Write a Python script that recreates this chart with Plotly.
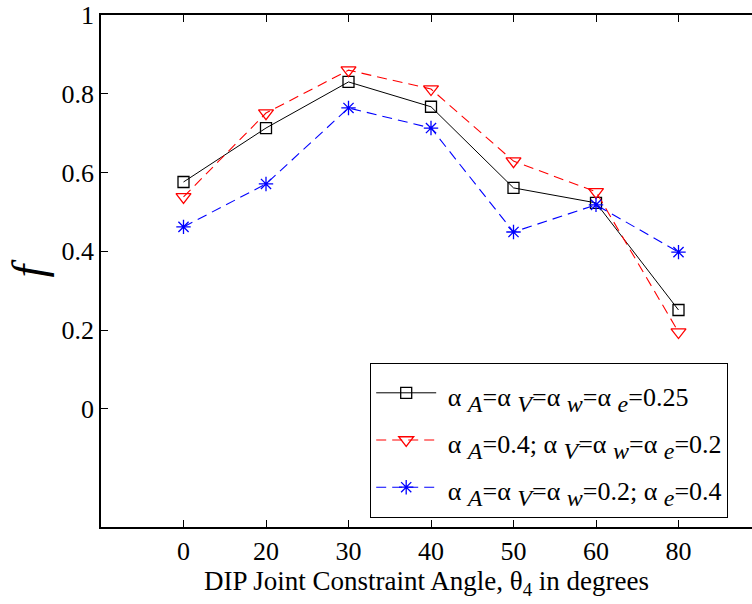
import plotly.graph_objects as go

categories = ["0", "20", "30", "40", "50", "60", "80"]
series_equal = [0.576, 0.713, 0.830, 0.767, 0.561, 0.523, 0.251]
series_A04 = [0.538, 0.751, 0.860, 0.812, 0.629, 0.551, 0.195]
series_e04 = [0.462, 0.571, 0.764, 0.713, 0.449, 0.518, 0.398]
y_ticks = [0, 0.2, 0.4, 0.6, 0.8, 1]


def sb(s):
    return "<sub><span style='font-size:24px'><i>" + s + "</i></span></sub>"


def lg(t):
    return "<span style='font-size:26px'> " + t + "</span>"


names = [
    lg("α " + sb("A") + "=α " + sb("V") + "=α " + sb("w") + "=α " + sb("e") + "=0.25"),
    lg("α " + sb("A") + "=0.4; α " + sb("V") + "=α " + sb("w") + "=α " + sb("e") + "=0.2"),
    lg("α " + sb("A") + "=α " + sb("V") + "=α " + sb("w") + "=0.2; α " + sb("e") + "=0.4"),
]

xpos = list(range(1, len(categories) + 1))
FONT = "Liberation Serif"

fig = go.Figure()
fig.add_trace(go.Scatter(x=xpos, y=series_equal, mode="lines+markers", name=names[0],
                         line=dict(color="black", width=1),
                         marker=dict(symbol="square-open", size=11, color="black", line=dict(width=1.3))))
fig.add_trace(go.Scatter(x=xpos, y=series_A04, mode="lines+markers", name=names[1],
                         line=dict(color="#ff0000", width=1.1, dash="10px,6px"),
                         marker=dict(symbol="triangle-down-open", size=13, color="#ff0000", line=dict(width=1.3))))
fig.add_trace(go.Scatter(x=xpos, y=series_e04, mode="lines+markers", name=names[2],
                         line=dict(color="#0000ff", width=1.1, dash="10px,6px"),
                         marker=dict(symbol="asterisk-open", size=12, color="#0000ff", line=dict(width=1.3))))

fig.update_layout(
    width=752, height=604,
    margin=dict(l=101, r=0, t=15, b=77),
    paper_bgcolor="white", plot_bgcolor="white",
    font=dict(family=FONT, size=26, color="black"),
    showlegend=True,
    legend=dict(
        x=(370 - 101) / 651, y=(527 - 363) / 512, xanchor="left", yanchor="top",
        bordercolor="black", borderwidth=1.2, bgcolor="white",
        font=dict(family=FONT, size=34, color="black"),
        itemwidth=60, tracegroupgap=0,
    ),
)
fig.update_xaxes(
    range=[0, 651 / 82.5], tickvals=xpos, ticktext=categories,
    showline=True, linecolor="black", linewidth=1.5, mirror="ticks",
    ticks="inside", ticklen=7, tickcolor="black", tickwidth=1.2,
    showgrid=False, zeroline=False,
    tickfont=dict(family=FONT, size=26),
    title=dict(text="DIP Joint Constraint Angle, θ<sub>4</sub> in degrees",
               font=dict(family=FONT, size=27), standoff=0),
)
fig.update_yaxes(
    range=[-0.3, 1.0], tickvals=y_ticks, ticktext=["0", "0.2", "0.4", "0.6", "0.8", "1"],
    showline=True, linecolor="black", linewidth=1.5, mirror=False,
    ticks="inside", ticklen=7, tickcolor="black", tickwidth=1.2,
    showgrid=False, zeroline=False,
    tickfont=dict(family=FONT, size=26),
    title=dict(text="<i>f</i>", font=dict(family=FONT, size=46), standoff=2),
)

fig.write_html("out.html")
